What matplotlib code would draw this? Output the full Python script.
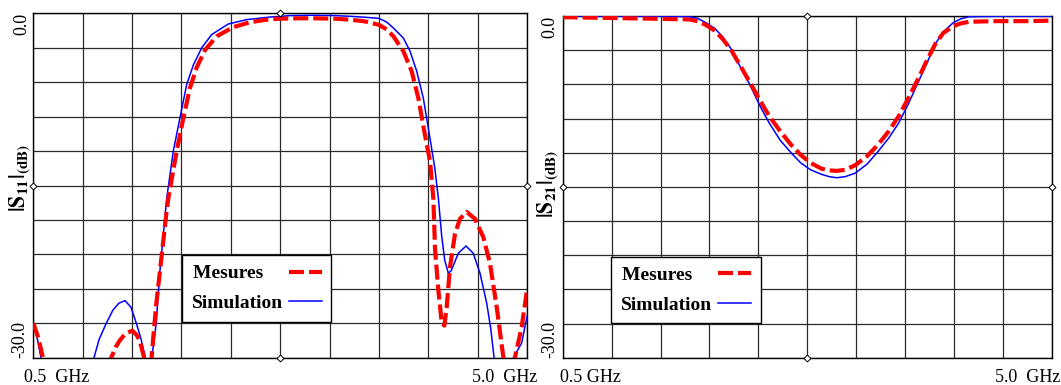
import numpy as np
import matplotlib.pyplot as plt
from matplotlib.lines import Line2D

# |S11| (dB) - simulation
s11_sim_f = [0.50, 0.54, 0.58, 0.70, 0.90, 1.053, 1.10, 1.165, 1.226, 1.28, 1.336, 1.39, 1.439,
             1.48, 1.52, 1.55, 1.578, 1.60, 1.62, 1.652, 1.698, 1.716, 1.776, 1.843, 1.898,
             1.959, 2.035, 2.126, 2.277, 2.445, 2.66, 2.85, 3.05, 3.25, 3.387, 3.52, 3.65,
             3.72, 3.782, 3.873, 3.934, 3.995, 4.055, 4.116, 4.16, 4.192, 4.223, 4.25, 4.283,
             4.31, 4.374, 4.444, 4.51, 4.572, 4.633, 4.67, 4.70, 4.75, 4.82, 4.876, 4.952, 5.00]
s11_sim_db = [-26.95, -28.5, -30.5, -35.0, -35.0, -30.0, -28.4, -27.0, -25.85, -25.25, -25.03, -25.6, -27.0,
              -28.3, -30.0, -31.5, -30.0, -28.6, -27.0, -22.65, -18.0, -16.1, -12.0, -8.8, -6.2,
              -4.5, -3.0, -1.85, -0.93, -0.55, -0.32, -0.2, -0.17, -0.2, -0.26, -0.34, -0.44,
              -0.75, -1.28, -2.15, -3.3, -5.05, -7.4, -10.9, -13.5, -16.1, -19.46, -21.5, -22.65,
              -22.4, -20.9, -20.27, -20.9, -22.65, -25.26, -27.5, -30.0, -33.0, -33.0, -30.0, -28.7, -26.4]

# |S11| (dB) - mesures
s11_mes_f = [0.50, 0.543, 0.588, 0.65, 1.00, 1.15, 1.21, 1.25, 1.288, 1.34, 1.402, 1.44, 1.47,
             1.51, 1.545, 1.578, 1.60, 1.621, 1.652, 1.685, 1.713, 1.731, 1.807, 1.868, 1.928,
             1.99, 2.065, 2.172, 2.323, 2.475, 2.66, 2.85, 3.05, 3.25, 3.387, 3.52, 3.65,
             3.72, 3.782, 3.873, 3.949, 4.01, 4.07, 4.116, 4.146, 4.162, 4.192, 4.223, 4.247,
             4.268, 4.298, 4.344, 4.389, 4.45, 4.526, 4.602, 4.663, 4.724, 4.785, 4.83, 4.89,
             4.952, 5.00]
s11_mes_db = [-27.0, -28.2, -30.0, -34.0, -36.0, -33.0, -30.0, -29.1, -28.5, -27.9, -27.65, -28.0, -28.5,
              -30.0, -33.0, -30.0, -27.5, -25.3, -22.65, -19.8, -17.4, -16.1, -12.0, -9.1, -6.5,
              -4.7, -3.2, -2.0, -1.2, -0.78, -0.5, -0.44, -0.43, -0.47, -0.55, -0.7, -1.0,
              -1.4, -2.0, -3.3, -5.05, -7.4, -10.6, -12.9, -16.1, -20.6, -24.1, -27.0, -27.2,
              -25.6, -22.1, -19.2, -17.9, -17.3, -17.9, -19.5, -21.8, -25.6, -30.0, -33.0, -30.0,
              -27.3, -24.1]

# |S21| (dB)
s21_f = [0.50, 1.00, 1.40, 1.66, 1.74, 1.82, 1.90, 1.97, 2.05, 2.13, 2.22, 2.32, 2.40, 2.50,
         2.60, 2.69, 2.78, 2.88, 2.95, 3.02, 3.10, 3.19, 3.30, 3.40, 3.50, 3.59, 3.68, 3.78,
         3.86, 3.93, 4.00, 4.09, 4.16, 4.24, 4.50, 4.80, 5.00]
s21_sim_db = [0.0, -0.01, -0.02, -0.05, -0.2, -0.6, -1.1, -1.8, -2.9, -4.4, -6.0, -8.0, -9.4, -10.9,
              -12.0, -12.9, -13.5, -13.9, -14.1, -14.2, -14.1, -13.8, -13.0, -11.9, -10.7, -9.4, -7.7, -5.6,
              -3.9, -2.4, -1.4, -0.6, -0.25, -0.06, -0.02, -0.02, -0.02]
s21_mes_db = [-0.1, -0.18, -0.25, -0.3, -0.45, -0.8, -1.3, -2.0, -3.0, -4.3, -5.8, -7.5, -8.8, -10.1,
              -11.3, -12.2, -12.9, -13.4, -13.55, -13.6, -13.5, -13.1, -12.3, -11.3, -10.1, -8.8, -7.2, -5.3,
              -3.7, -2.4, -1.5, -0.9, -0.65, -0.5, -0.45, -0.45, -0.4]

legend_labels = ['Mesures    ', 'Simulation']

plt.rcParams['font.family'] = 'Liberation Serif'
plt.rcParams['mathtext.fontset'] = 'stix'

fig = plt.figure(figsize=(10.61, 3.85), dpi=100)
ax1 = fig.add_axes([0.0314, 0.0709, 0.4653, 0.8945])
ax2 = fig.add_axes([0.5303, 0.0709, 0.4612, 0.8875])

fmin, fmax = 0.5, 5.0
dbmin, dbmax = -30.0, 0.0


def setup(ax):
    ax.set_xlim(fmin, fmax)
    ax.set_ylim(dbmin, dbmax)
    ax.set_xticks(np.linspace(fmin, fmax, 11))
    ax.set_yticks(np.linspace(dbmin, dbmax, 11))
    ax.tick_params(length=0, labelbottom=False, labelleft=False)
    ax.grid(True, color='#2a2a2a', lw=0.9)
    for s in ax.spines.values():
        s.set_color('black')
        s.set_linewidth(1.0)
    # small diamonds at the middle of each side
    xm = (fmin + fmax) / 2
    ym = (dbmin + dbmax) / 2
    ax.plot([xm, xm, fmin, fmax], [dbmax, dbmin, ym, ym], ls='none', marker='D', ms=3.5,
            mfc='white', mec='black', mew=0.7, clip_on=False, zorder=5)


def draw(ax, f_mes, mes, f_sim, sim, leg_anchor):
    ax.plot(f_sim, sim, color='#0000ff', lw=1.1, zorder=3)
    ax.plot(f_mes, mes, color='#ff0000', lw=3.0, dashes=(3.6, 1.2), zorder=4)
    handles = [Line2D([], [], color='#ff0000', lw=3.0, dashes=(3.6, 1.2)),
               Line2D([], [], color='#0000ff', lw=1.1)]
    leg = ax.legend(handles, legend_labels, loc='upper left',
                    bbox_to_anchor=leg_anchor, borderaxespad=0, markerfirst=False,
                    prop={'family': 'Liberation Serif', 'weight': 'bold', 'size': 14},
                    handlelength=1.7, handletextpad=0.3, labelspacing=0.62,
                    borderpad=0.5, fancybox=False, framealpha=1, edgecolor='black')
    leg.get_frame().set_linewidth(1.0)
    leg.set_zorder(6)


setup(ax1)
setup(ax2)
draw(ax1, s11_mes_f, s11_mes_db, s11_sim_f, s11_sim_db, (0.301, 0.298))
draw(ax2, s21_f, s21_mes_db, s21_f, s21_sim_db, (0.099, 0.296))

W, H = 1061, 385
fs = 13
# tick texts
fig.text(22 / W, 1 - 13 / H, '0.0', rotation=90, ha='center', va='top', fontsize=fs)
fig.text(20 / W, 1 - 358 / H, '-30.0', rotation=90, ha='center', va='bottom', fontsize=fs)
fig.text(550 / W, 1 - 16 / H, '0.0', rotation=90, ha='center', va='top', fontsize=fs)
fig.text(550 / W, 1 - 358 / H, '-30.0', rotation=90, ha='center', va='bottom', fontsize=fs)
fig.text(24 / W, 1 - 378 / H, '0.5  GHz', ha='left', va='center', fontsize=fs)
fig.text(537 / W, 1 - 378 / H, '5.0  GHz', ha='right', va='center', fontsize=fs)
fig.text(560 / W, 1 - 378 / H, '0.5 GHz', ha='left', va='center', fontsize=fs)
fig.text(1060 / W, 1 - 378 / H, '5.0  GHz', ha='right', va='center', fontsize=fs)

# axis titles
fig.text(20 / W, 1 - 178 / H, r'$\mathbf{|S_{11}|_{(dB)}}$', rotation=90,
         ha='center', va='center', fontsize=15.5)
fig.text(548 / W, 1 - 184 / H, r'$\mathbf{|S_{21}|_{(dB)}}$', rotation=90,
         ha='center', va='center', fontsize=15.5)

fig.savefig('out.png', dpi=100)
